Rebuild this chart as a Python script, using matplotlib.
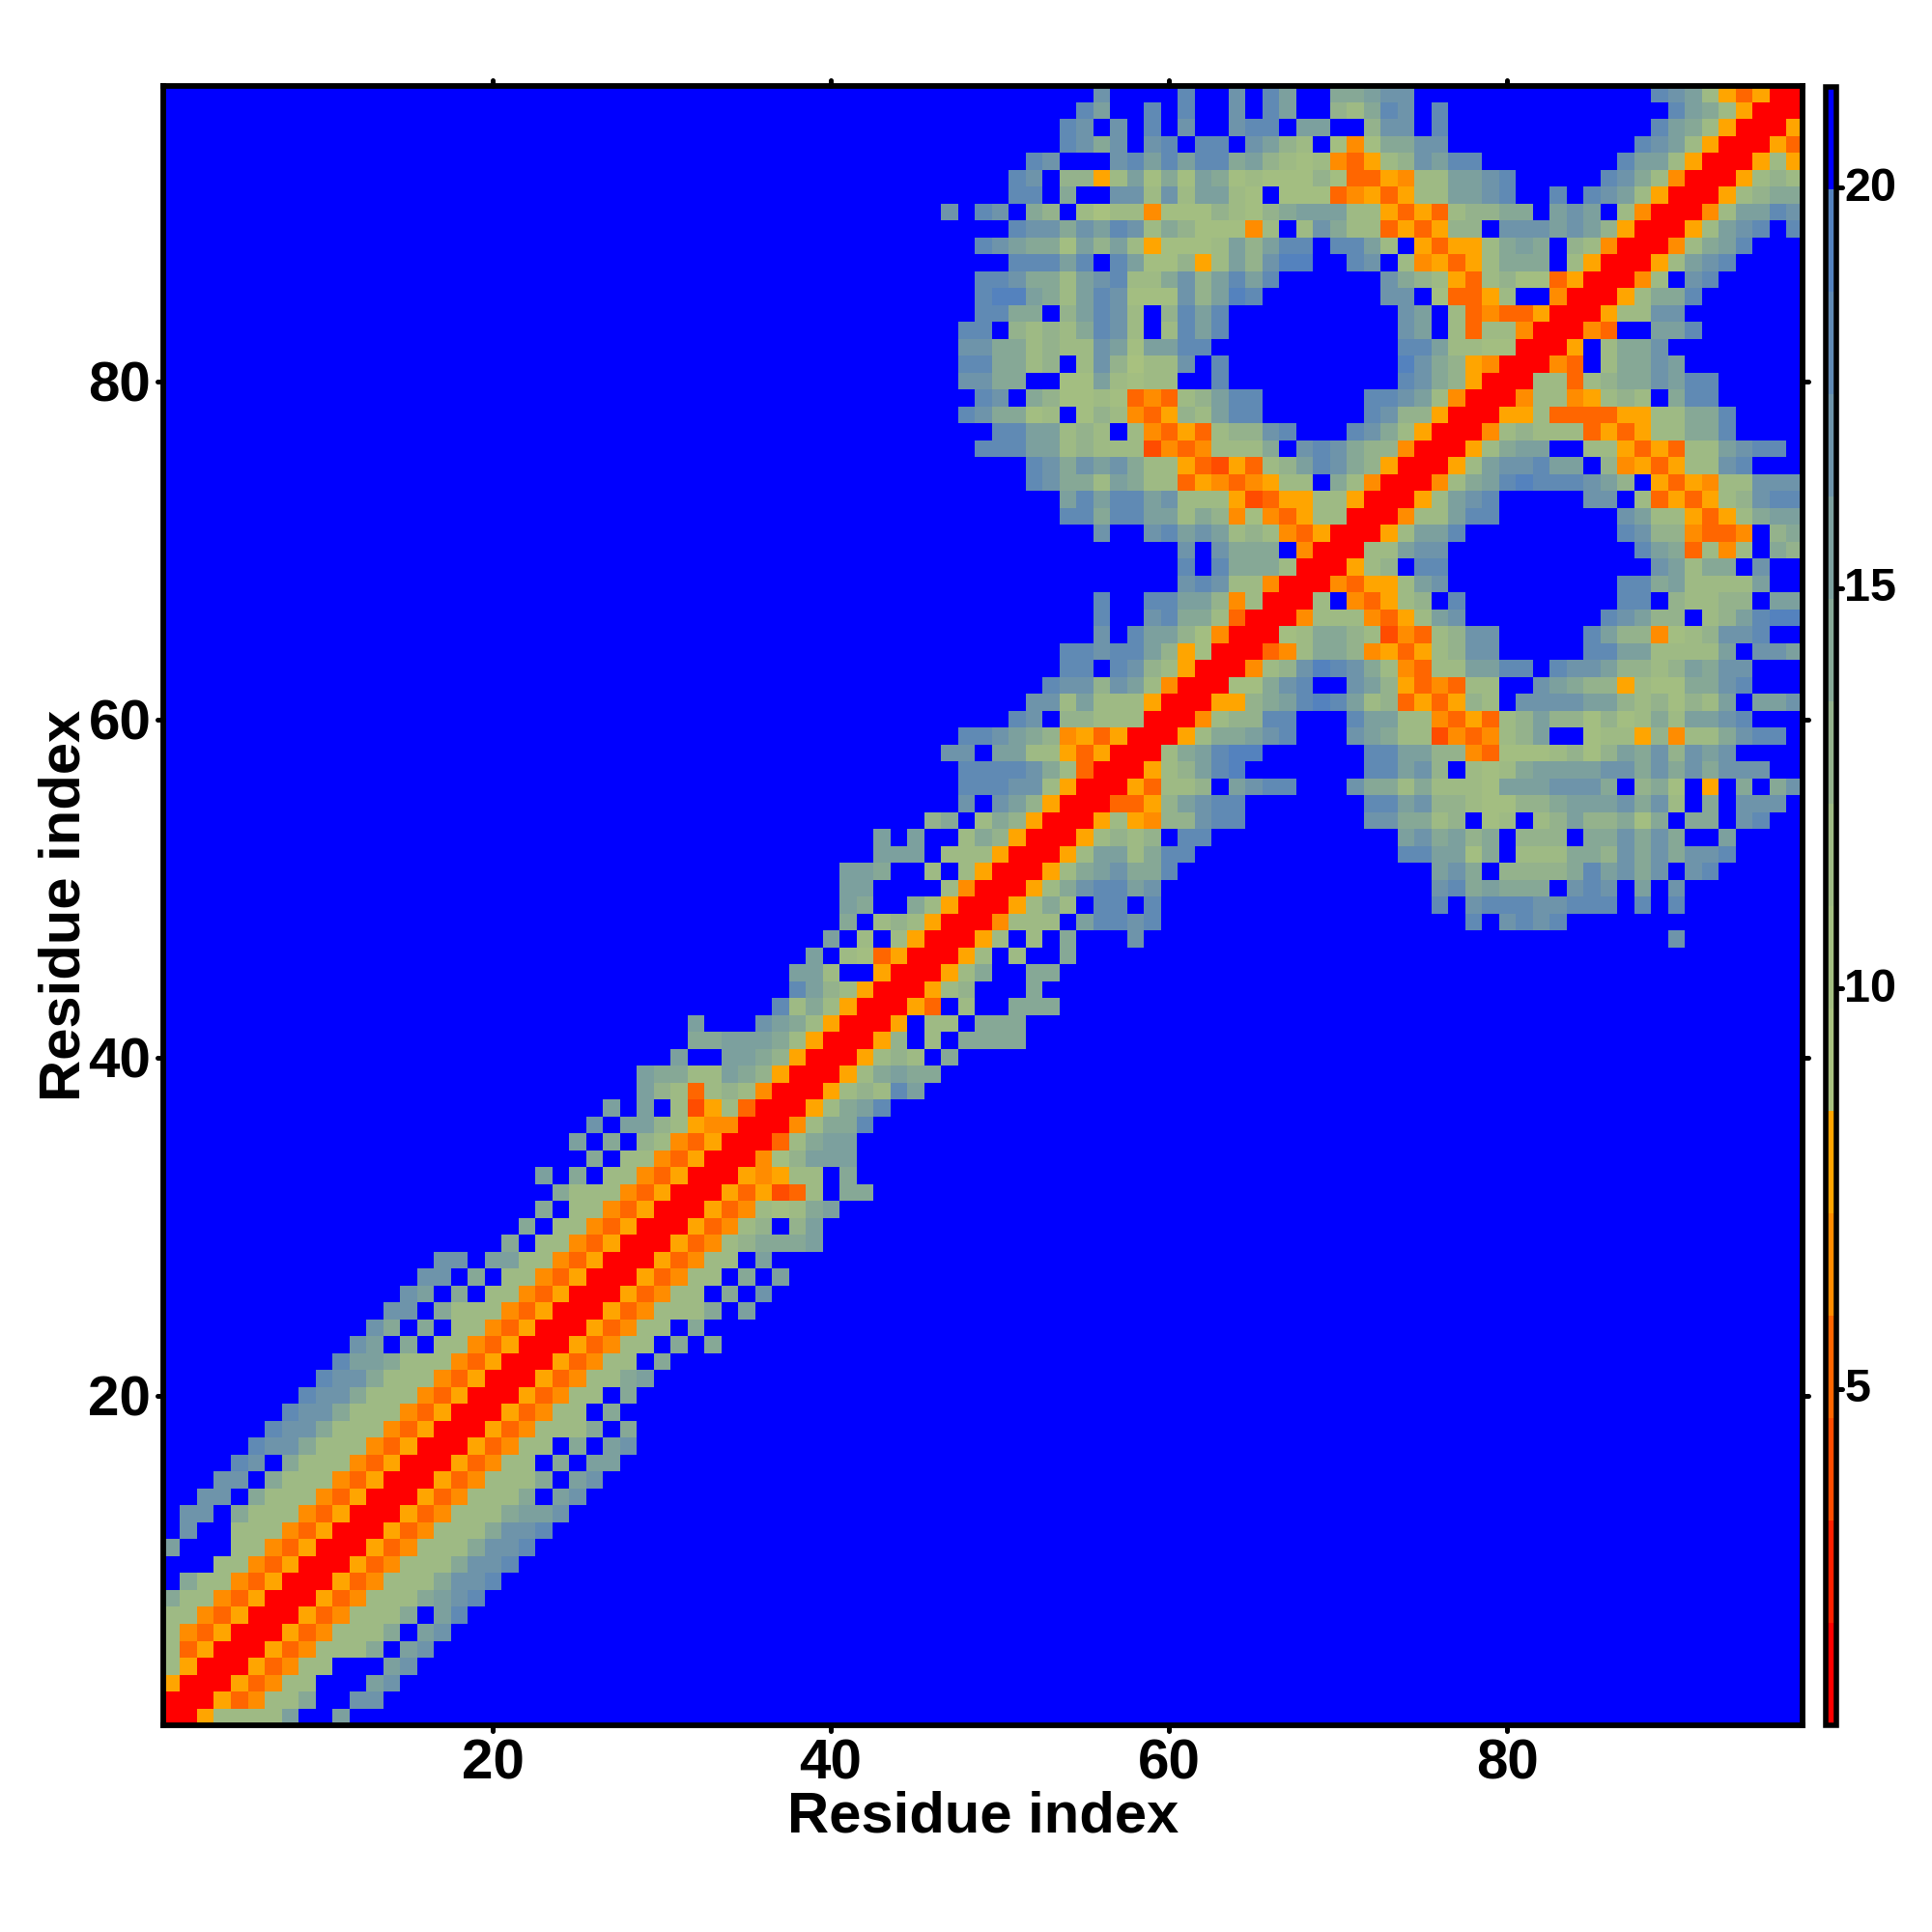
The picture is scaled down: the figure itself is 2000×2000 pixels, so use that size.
import numpy as np
import matplotlib
matplotlib.use("Agg")
import matplotlib.pyplot as plt
from matplotlib.colors import ListedColormap, BoundaryNorm
from matplotlib.markers import MarkerStyle
from matplotlib.transforms import ScaledTranslation

plt.rcParams['font.family'] = ['Liberation Sans', 'DejaVu Sans']
plt.rcParams['font.weight'] = 'bold'

N_RESIDUES = 97
X_TICKS = [20, 40, 60, 80]
Y_TICKS = [20, 40, 60, 80]
CBAR_TICKS = [5, 10, 15, 20]
AXIS_LABEL = "Residue index"

# distance classes of the contact map: lower bound of each colour step
VALUE_MIN = 0.8
VALUE_STEP = 1.279
LEVEL_COLOURS = [
    (255, 0, 0), (255, 32, 0), (255, 76, 0), (255, 102, 0), (255, 140, 0), (255, 165, 0),
    (168, 193, 127), (163, 190, 129), (158, 186, 132), (148, 178, 140), (134, 168, 150),
    (124, 160, 158), (110, 148, 170), (96, 138, 180), (84, 130, 190), (0, 0, 255),
]
LEVEL_CHARS = "0123456789ABCDE."

# row: (first column, colour class per column); everything else is the top class '.'
ROW_CLASSES = {
    97: (56, "C....D..C.DB..AABCC..............DCB853500"),
    96: (55, "DB..D.D..C.DB..98ADC.D.............DBA85000"),
    95: (54, "DC.C.D.C..CDD.BB..9CC.D............DBA850005"),
    94: (54, "DCAC.CD.DD.CB98.747AACC...........DCB8500053"),
    93: (52, "DC...CDBDBDDAB987843589CBDD........DBB85000585"),
    92: (51, "DC.9958B7A7BA7877797335488BBCD.....DCA840005898"),
    91: (51, "DD.A..CC8C8BB87.7773453588BBCD..D.DCB85000589AA"),
    90: (47, "C.DC.A9.868847779879ABBB885353899AA.BCB.8400048BBDC"),
    89: (51, "DCCACBDC8A977748.8CA88353599.CCCBCB9500058BCD.D"),
    88: (49, "DCBAA7B9B857778B9BDD.DDB8.53558ABA.98400048ABD"),
    87: (51, "DDDBD.DB77958B9CEE..DC.845358AAA.8500058BCD"),
    86: (49, "DDCAA8BCD88AC9BDBD......CA985389773500048.CD"),
    85: (49, "DEEBA8BDC777C9BED.......CC.73358..400058AAD"),
    84: (49, "DDAA.9BDC8.9DBD..........CB.834335000588CC"),
    83: (48, "DD.9898ADC8.8DBD..........CB.8388400043..BBD"),
    82: (48, "CCAA8988CB7BBDD...........DDB88770005.8AAC"),
    81: (48, "DDAA89.8C9688C.D..........ECA95400043.8AACB"),
    80: (48, "CCAA..77B8788..D..........DCA9500088389AACBDD"),
    79: (49, "DC.A9778734389BDD......DDCB8400048845898.ADD"),
    78: (48, "DCAA78.79843598BDD......DC99500055833335588AAD"),
    77: (50, "DDBB898.84353899CD...DCA85000489888353588AAD"),
    76: (49, "DDDBB898882434888A.CDCA99400058ABB..88535388BCDD"),
    75: (52, "DCACBCA885325389BDCA9500058BCCDBB.9453588CD"),
    74: (52, "DCAA8BA8835434588.A8400048ABDEDDDCB9.535488CCC"),
    73: (54, "BDBDDBC8885235588500058BCD.....CC.8353589CDD"),
    72: (54, "DDADDBB8A94743588000488BDD.......CB885358ABB"),
    71: (56, "C..CDBCB89843500058BBD.........DC994334.9A"),
    70: (61, "C.CAAA.400088BCC...........DBA3848.A9"),
    69: (61, "D.DAAA8000589.DD............CB8AA.C"),
    68: (61, "CDC88400043558BC..........DDAB8888B"),
    67: (56, "D..DDBB9480008.43589.D.........DD.98899.BB"),
    66: (56, "D..CDAA8300048884358BC........DCB99.89BDEE"),
    65: (56, "C.DBB97400078AA9824389CC.....DB994789CCD"),
    64: (54, "DDCDDB957000348AA9453589CC.....DDBB8888B.CCB"),
    63: (54, "DD.DC985000489CEDCA84388BBDD.DCCB9989BACC"),
    62: (53, "DCC9CB8400077ACD..CB9534388..CBA995877AACD"),
    61: (52, "CC8B8885000559ABDEDB89353598.CCCCBB989798B.BBC"),
    60: (51, "DC.998880004899DD...DBB88435389B997978A8BBCD"),
    59: (48, "DDCBA9453500058AABCD...CBA88243489B..78859488ACDD"),
    58: (47, "CC.BB885350008ABDEE......DDBB99437778979BAC9CBC"),
    57: (48, "DDDDCA83000589BDE.......DDBC9.878ABBBBCCACACACCC"),
    56: (48, "DDDCC8500053889.BCDD...CAA8A8887BBBCCCA.9A7.5.A.AC"),
    55: (48, "C.CB950003359BCDD.......DDBC9987799ABBBCAC8.A.CCC"),
    54: (46, "9A.8A95000585499CDD.......CCAA89.78.89B99A7A.AA.CD"),
    53: (43, "B.B..8A9500058989.DD...........BCAB9A.999.AACACA..B"),
    52: (43, "BBB.888500058BB8ADD............DDBB7A.888AA9CACACCD"),
    51: (41, "BBA..8.8500058ABCAAD...............BCA.9999ADBCAC.CD"),
    50: (41, "BB....8400058ACDDBC................CDABAAA.CDC.B.C"),
    49: (41, "BA..A8500058A8.DD.D................D.CDDDCCDDD.D.D"),
    48: (41, "A.89850004888.BDDCD..................D.CDCD"),
    47: (40, "B.8.8500058.8.A...C...............................C"),
    46: (39, "B.873500058.8..A"),
    45: (38, "BB8..500058A..AA"),
    44: (38, "DB985000589...A"),
    43: (37, "D8A8500053.8..AAA"),
    42: (32, "B...CBA850005.88.AAA"),
    41: (32, "AABBBA8500059.8.AAAA"),
    40: (31, "B..BBA950005898.A"),
    39: (29, "BAA88BA9500058ABAA"),
    38: (29, "B98389840005898DB"),
    37: (27, "B.B.8258300058ABD"),
    36: (26, "C.BB9854400048AAD"),
    35: (25, "B.A.9843500038ABB"),
    34: (26, "A.88435000479BBB"),
    33: (23, "B.A.8843500054588.A"),
    32: (24, "A888435000535238.AA"),
    31: (23, "A.88435000534878AB"),
    30: (22, "A.8843500053489.9B"),
    29: (21, "A.8843500053489AAAB"),
    28: (17, "CC.BB8843500053488.B"),
    27: (16, "CC.A.8843500053488.A.B"),
    26: (15, "CB.A.8843500053488.A.C"),
    25: (14, "CC.A888435000534888A.B"),
    24: (13, "CA.A.8843500053488.A"),
    23: (12, "CB.A.8843500053488.A.A"),
    22: (11, "DBBA88843500053488.A"),
    21: (10, "DCCA88843500053488AB"),
    20: (9, "DCCA88843500053488.A"),
    19: (8, "DCCA88843500053488.A"),
    18: (7, "DCCA888435000534888A.A"),
    17: (6, "DCCA88843500053488.A.BC"),
    16: (5, "DC.A88843500053488.A.BB"),
    15: (4, "CC.A888435000534888A.BC"),
    14: (3, "CC.A888435000534888A.BC"),
    13: (2, "CC.A888435000534888ABBC"),
    12: (2, "C..888435000534888ACCD"),
    11: (1, "B...88435000534888ACCD"),
    10: (1, "...88435000534888ACCD"),
    9: (1, ".A88435000534888ACCD"),
    8: (1, "A88435000534888ABCD"),
    7: (1, "88435000534888A.BD"),
    6: (1, "8435000534888A.BC"),
    5: (1, "835000534888A.BC"),
    4: (1, "8500053488...BC"),
    3: (1, "500053488...BC"),
    2: (1, "00053488A..CC"),
    1: (1, "0058888B..B"),
}

n_levels = len(LEVEL_COLOURS)
edges = VALUE_MIN + VALUE_STEP * np.arange(n_levels + 1)
centres = 0.5 * (edges[:-1] + edges[1:])

values = np.full((N_RESIDUES, N_RESIDUES), centres[-1])
for row, (first, text) in ROW_CLASSES.items():
    for k, ch in enumerate(text):
        col = first + k
        if col <= N_RESIDUES:
            values[row - 1, col - 1] = centres[LEVEL_CHARS.index(ch)]

cmap = ListedColormap([tuple(c / 255 for c in rgb) for rgb in LEVEL_COLOURS])
norm = BoundaryNorm(edges, n_levels)

W = H = 2000
fig = plt.figure(figsize=(W / 100, H / 100), dpi=100, facecolor='white')

def box(x0, y0, x1, y1):
    return [x0 / W, 1 - y1 / H, (x1 - x0) / W, (y1 - y0) / H]

ax = fig.add_axes(box(168.75, 88.75, 1866.25, 1786.25))
im = ax.imshow(values, origin='lower', cmap=cmap, norm=norm, interpolation='nearest',
               extent=(0.5, N_RESIDUES + 0.5, 0.5, N_RESIDUES + 0.5), aspect='auto')
ax.set_xticks(X_TICKS)
ax.set_yticks(Y_TICKS)
ax.tick_params(axis='both', which='major', direction='out', length=4.5, width=3.6,
               top=True, right=True, labelsize=42, pad=4.5)
ax.tick_params(axis='x', pad=5)
ax.set_xlabel(AXIS_LABEL, fontsize=43, fontweight='bold', labelpad=0)
ax.set_ylabel(AXIS_LABEL, fontsize=43, fontweight='bold', labelpad=-2)
for spine in ax.spines.values():
    spine.set_linewidth(4.2)

cax = fig.add_axes(box(1889.5, 89.5, 1901, 1786.25))
cb = fig.colorbar(im, cax=cax, ticks=CBAR_TICKS, spacing='proportional')
cb.ax.set_yticklabels([str(t) for t in CBAR_TICKS])
cb.ax.minorticks_off()
cb.ax.tick_params(axis='y', direction='out', length=4.5, width=3.6, labelsize=35, pad=1.5)
cb.outline.set_linewidth(4.0)
up = ScaledTranslation(0, 3.0 / 72, fig.dpi_scale_trans)
for label in cb.ax.get_yticklabels():
    label.set_transform(label.get_transform() + up)

for a in (ax, cb.ax):
    for tick in a.xaxis.get_major_ticks() + a.yaxis.get_major_ticks():
        for line in (tick.tick1line, tick.tick2line):
            line.set_marker(MarkerStyle(line.get_marker(), capstyle='round'))

fig.savefig("out.png", dpi=100, facecolor='white')
